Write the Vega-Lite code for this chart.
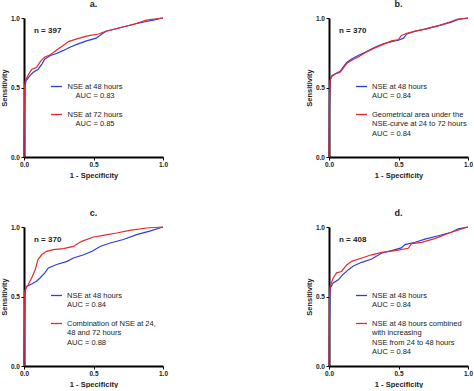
{
  "$schema": "https://vega.github.io/schema/vega-lite/v6.json",
  "padding": {"left": 0, "top": 0, "right": 0, "bottom": 0},
  "bounds": "flush",
  "columns": 2,
  "spacing": {"row": 70, "column": 166},
  "config": {
    "font": "Liberation Sans",
    "view": {"stroke": null},
    "axis": {"domainColor": "black", "domainWidth": 2, "tickColor": "black", "tickSize": 3, "tickWidth": 1, "labelFont": "Liberation Sans", "labelFontWeight": "bold", "labelFontSize": 6.5, "labelColor": "#222", "labelPadding": 1.5, "titleFont": "Liberation Sans", "titleFontWeight": "bold", "titleFontSize": 7.5, "titleColor": "#222", "grid": false},
    "axisX": {"titlePadding": 3, "labelFlush": false},
    "axisY": {"titlePadding": 1.5},
    "title": {"fontSize": 9, "fontWeight": "bold", "color": "#222", "offset": 6, "anchor": "middle", "frame": "group"},
    "legend": {"orient": "none", "title": null, "symbolType": "stroke", "symbolStrokeWidth": 1.3, "symbolSize": 121, "labelFont": "Liberation Sans", "labelFontSize": 7.5, "labelColor": "#222", "labelLimit": 0, "rowPadding": 8, "padding": 0, "labelOffset": 4, "legendX": 26, "legendY": 62}
  },
  "datasets": {
    "roc": [
      {"p":"a","s":"blue","x":0,"y":0},{"p":"a","s":"blue","x":0.003,"y":0.3},{"p":"a","s":"blue","x":0.007,"y":0.5},{"p":"a","s":"blue","x":0.015,"y":0.55},{"p":"a","s":"blue","x":0.043,"y":0.585},{"p":"a","s":"blue","x":0.067,"y":0.61},{"p":"a","s":"blue","x":0.1,"y":0.63},{"p":"a","s":"blue","x":0.13,"y":0.67},{"p":"a","s":"blue","x":0.15,"y":0.705},{"p":"a","s":"blue","x":0.19,"y":0.73},{"p":"a","s":"blue","x":0.235,"y":0.745},{"p":"a","s":"blue","x":0.28,"y":0.765},{"p":"a","s":"blue","x":0.33,"y":0.79},{"p":"a","s":"blue","x":0.38,"y":0.81},{"p":"a","s":"blue","x":0.45,"y":0.835},{"p":"a","s":"blue","x":0.52,"y":0.855},{"p":"a","s":"blue","x":0.56,"y":0.885},{"p":"a","s":"blue","x":0.59,"y":0.905},{"p":"a","s":"blue","x":0.69,"y":0.93},{"p":"a","s":"blue","x":0.79,"y":0.955},{"p":"a","s":"blue","x":0.88,"y":0.975},{"p":"a","s":"blue","x":0.93,"y":0.985},{"p":"a","s":"blue","x":0.98,"y":0.997},{"p":"a","s":"blue","x":1,"y":1},
      {"p":"a","s":"red","x":0,"y":0},{"p":"a","s":"red","x":0.003,"y":0.5},{"p":"a","s":"red","x":0.01,"y":0.55},{"p":"a","s":"red","x":0.03,"y":0.59},{"p":"a","s":"red","x":0.055,"y":0.63},{"p":"a","s":"red","x":0.09,"y":0.645},{"p":"a","s":"red","x":0.12,"y":0.69},{"p":"a","s":"red","x":0.15,"y":0.72},{"p":"a","s":"red","x":0.19,"y":0.735},{"p":"a","s":"red","x":0.235,"y":0.77},{"p":"a","s":"red","x":0.28,"y":0.8},{"p":"a","s":"red","x":0.32,"y":0.83},{"p":"a","s":"red","x":0.38,"y":0.85},{"p":"a","s":"red","x":0.45,"y":0.87},{"p":"a","s":"red","x":0.535,"y":0.885},{"p":"a","s":"red","x":0.59,"y":0.905},{"p":"a","s":"red","x":0.69,"y":0.93},{"p":"a","s":"red","x":0.79,"y":0.955},{"p":"a","s":"red","x":0.88,"y":0.985},{"p":"a","s":"red","x":1,"y":1},
      {"p":"b","s":"blue","x":0,"y":0},{"p":"b","s":"blue","x":0.003,"y":0.35},{"p":"b","s":"blue","x":0.008,"y":0.55},{"p":"b","s":"blue","x":0.02,"y":0.585},{"p":"b","s":"blue","x":0.043,"y":0.597},{"p":"b","s":"blue","x":0.08,"y":0.616},{"p":"b","s":"blue","x":0.1,"y":0.645},{"p":"b","s":"blue","x":0.127,"y":0.68},{"p":"b","s":"blue","x":0.163,"y":0.705},{"p":"b","s":"blue","x":0.21,"y":0.73},{"p":"b","s":"blue","x":0.26,"y":0.753},{"p":"b","s":"blue","x":0.33,"y":0.79},{"p":"b","s":"blue","x":0.39,"y":0.815},{"p":"b","s":"blue","x":0.45,"y":0.83},{"p":"b","s":"blue","x":0.5,"y":0.84},{"p":"b","s":"blue","x":0.535,"y":0.855},{"p":"b","s":"blue","x":0.56,"y":0.885},{"p":"b","s":"blue","x":0.62,"y":0.905},{"p":"b","s":"blue","x":0.69,"y":0.92},{"p":"b","s":"blue","x":0.79,"y":0.945},{"p":"b","s":"blue","x":0.88,"y":0.97},{"p":"b","s":"blue","x":0.93,"y":0.99},{"p":"b","s":"blue","x":1,"y":1},
      {"p":"b","s":"red","x":0,"y":0},{"p":"b","s":"red","x":0.003,"y":0.4},{"p":"b","s":"red","x":0.008,"y":0.55},{"p":"b","s":"red","x":0.02,"y":0.58},{"p":"b","s":"red","x":0.05,"y":0.6},{"p":"b","s":"red","x":0.08,"y":0.61},{"p":"b","s":"red","x":0.1,"y":0.635},{"p":"b","s":"red","x":0.13,"y":0.675},{"p":"b","s":"red","x":0.17,"y":0.7},{"p":"b","s":"red","x":0.21,"y":0.72},{"p":"b","s":"red","x":0.26,"y":0.75},{"p":"b","s":"red","x":0.33,"y":0.785},{"p":"b","s":"red","x":0.39,"y":0.81},{"p":"b","s":"red","x":0.45,"y":0.835},{"p":"b","s":"red","x":0.5,"y":0.845},{"p":"b","s":"red","x":0.52,"y":0.875},{"p":"b","s":"red","x":0.56,"y":0.89},{"p":"b","s":"red","x":0.62,"y":0.905},{"p":"b","s":"red","x":0.69,"y":0.92},{"p":"b","s":"red","x":0.79,"y":0.945},{"p":"b","s":"red","x":0.88,"y":0.975},{"p":"b","s":"red","x":0.92,"y":0.99},{"p":"b","s":"red","x":1,"y":1},
      {"p":"c","s":"blue","x":0,"y":0},{"p":"c","s":"blue","x":0.003,"y":0.3},{"p":"c","s":"blue","x":0.008,"y":0.55},{"p":"c","s":"blue","x":0.02,"y":0.573},{"p":"c","s":"blue","x":0.055,"y":0.59},{"p":"c","s":"blue","x":0.09,"y":0.61},{"p":"c","s":"blue","x":0.115,"y":0.633},{"p":"c","s":"blue","x":0.15,"y":0.67},{"p":"c","s":"blue","x":0.175,"y":0.705},{"p":"c","s":"blue","x":0.235,"y":0.73},{"p":"c","s":"blue","x":0.31,"y":0.753},{"p":"c","s":"blue","x":0.355,"y":0.777},{"p":"c","s":"blue","x":0.43,"y":0.8},{"p":"c","s":"blue","x":0.49,"y":0.825},{"p":"c","s":"blue","x":0.547,"y":0.86},{"p":"c","s":"blue","x":0.62,"y":0.885},{"p":"c","s":"blue","x":0.715,"y":0.91},{"p":"c","s":"blue","x":0.81,"y":0.945},{"p":"c","s":"blue","x":0.905,"y":0.97},{"p":"c","s":"blue","x":1,"y":1},
      {"p":"c","s":"red","x":0,"y":0},{"p":"c","s":"red","x":0.003,"y":0.525},{"p":"c","s":"red","x":0.015,"y":0.56},{"p":"c","s":"red","x":0.03,"y":0.585},{"p":"c","s":"red","x":0.055,"y":0.633},{"p":"c","s":"red","x":0.08,"y":0.69},{"p":"c","s":"red","x":0.1,"y":0.765},{"p":"c","s":"red","x":0.127,"y":0.8},{"p":"c","s":"red","x":0.163,"y":0.825},{"p":"c","s":"red","x":0.21,"y":0.837},{"p":"c","s":"red","x":0.283,"y":0.845},{"p":"c","s":"red","x":0.355,"y":0.86},{"p":"c","s":"red","x":0.415,"y":0.897},{"p":"c","s":"red","x":0.5,"y":0.928},{"p":"c","s":"red","x":0.57,"y":0.94},{"p":"c","s":"red","x":0.667,"y":0.957},{"p":"c","s":"red","x":0.76,"y":0.976},{"p":"c","s":"red","x":0.88,"y":0.993},{"p":"c","s":"red","x":1,"y":1},
      {"p":"d","s":"blue","x":0,"y":0},{"p":"d","s":"blue","x":0.003,"y":0.3},{"p":"d","s":"blue","x":0.008,"y":0.56},{"p":"d","s":"blue","x":0.03,"y":0.597},{"p":"d","s":"blue","x":0.067,"y":0.62},{"p":"d","s":"blue","x":0.1,"y":0.657},{"p":"d","s":"blue","x":0.14,"y":0.693},{"p":"d","s":"blue","x":0.175,"y":0.72},{"p":"d","s":"blue","x":0.235,"y":0.746},{"p":"d","s":"blue","x":0.307,"y":0.77},{"p":"d","s":"blue","x":0.38,"y":0.813},{"p":"d","s":"blue","x":0.45,"y":0.83},{"p":"d","s":"blue","x":0.52,"y":0.85},{"p":"d","s":"blue","x":0.547,"y":0.873},{"p":"d","s":"blue","x":0.62,"y":0.89},{"p":"d","s":"blue","x":0.69,"y":0.913},{"p":"d","s":"blue","x":0.787,"y":0.937},{"p":"d","s":"blue","x":0.88,"y":0.962},{"p":"d","s":"blue","x":0.93,"y":0.986},{"p":"d","s":"blue","x":1,"y":1},
      {"p":"d","s":"red","x":0,"y":0},{"p":"d","s":"red","x":0.003,"y":0.477},{"p":"d","s":"red","x":0.008,"y":0.573},{"p":"d","s":"red","x":0.03,"y":0.633},{"p":"d","s":"red","x":0.055,"y":0.67},{"p":"d","s":"red","x":0.09,"y":0.68},{"p":"d","s":"red","x":0.127,"y":0.727},{"p":"d","s":"red","x":0.163,"y":0.753},{"p":"d","s":"red","x":0.235,"y":0.777},{"p":"d","s":"red","x":0.307,"y":0.8},{"p":"d","s":"red","x":0.38,"y":0.817},{"p":"d","s":"red","x":0.475,"y":0.83},{"p":"d","s":"red","x":0.57,"y":0.847},{"p":"d","s":"red","x":0.595,"y":0.88},{"p":"d","s":"red","x":0.667,"y":0.89},{"p":"d","s":"red","x":0.76,"y":0.916},{"p":"d","s":"red","x":0.88,"y":0.962},{"p":"d","s":"red","x":1,"y":1}
    ]
  },
  "resolve": {"scale": {"color": "independent"}, "legend": {"color": "independent"}},
  "concat": [
    {
      "title": "a.", "width": 139, "height": 139,
      "layer": [
        {"data": {"name": "roc"}, "transform": [{"filter": "datum.p == 'a'"}], "mark": {"type": "line", "strokeWidth": 1.2},
         "encoding": {
           "x": {"field": "x", "type": "quantitative", "scale": {"domain": [0, 1], "nice": false}, "axis": {"values": [0, 0.5, 1], "format": ".1f", "title": "1 - Specificity"}},
           "y": {"field": "y", "type": "quantitative", "scale": {"domain": [0, 1], "nice": false}, "axis": {"values": [0, 0.5, 1], "format": ".1f", "title": "Sensitivity"}},
           "color": {"field": "s", "type": "nominal", "scale": {"domain": ["blue", "red"], "range": ["#2f3dd6", "#e3282e"]},
             "legend": {"labelAlign": "center", "labelOffset": 32, "labelExpr": "datum.label == 'blue' ? ['NSE at 48 hours', 'AUC = 0.83'] : ['NSE at 72 hours', 'AUC = 0.85']"}}
         }},
        {"data": {"values": [{"t": "n = 397"}]}, "mark": {"type": "text", "align": "left", "baseline": "middle", "fontWeight": "bold", "fontSize": 8, "color": "#222"},
         "encoding": {"text": {"field": "t"}, "x": {"datum": 0.072}, "y": {"datum": 0.906}}}
      ]
    },
    {
      "title": "b.", "width": 139, "height": 139,
      "layer": [
        {"data": {"name": "roc"}, "transform": [{"filter": "datum.p == 'b'"}], "mark": {"type": "line", "strokeWidth": 1.2},
         "encoding": {
           "x": {"field": "x", "type": "quantitative", "scale": {"domain": [0, 1], "nice": false}, "axis": {"values": [0, 0.5, 1], "format": ".1f", "title": "1 - Specificity"}},
           "y": {"field": "y", "type": "quantitative", "scale": {"domain": [0, 1], "nice": false}, "axis": {"values": [0, 0.5, 1], "format": ".1f", "title": "Sensitivity"}},
           "color": {"field": "s", "type": "nominal", "scale": {"domain": ["blue", "red"], "range": ["#2f3dd6", "#e3282e"]},
             "legend": {"labelExpr": "datum.label == 'blue' ? ['NSE at 48 hours', 'AUC = 0.84'] : ['Geometrical area under the', 'NSE-curve at 24 to 72 hours', 'AUC = 0.84']"}}
         }},
        {"data": {"values": [{"t": "n = 370"}]}, "mark": {"type": "text", "align": "left", "baseline": "middle", "fontWeight": "bold", "fontSize": 8, "color": "#222"},
         "encoding": {"text": {"field": "t"}, "x": {"datum": 0.072}, "y": {"datum": 0.906}}}
      ]
    },
    {
      "title": "c.", "width": 139, "height": 139,
      "layer": [
        {"data": {"name": "roc"}, "transform": [{"filter": "datum.p == 'c'"}], "mark": {"type": "line", "strokeWidth": 1.2},
         "encoding": {
           "x": {"field": "x", "type": "quantitative", "scale": {"domain": [0, 1], "nice": false}, "axis": {"values": [0, 0.5, 1], "format": ".1f", "title": "1 - Specificity"}},
           "y": {"field": "y", "type": "quantitative", "scale": {"domain": [0, 1], "nice": false}, "axis": {"values": [0, 0.5, 1], "format": ".1f", "title": "Sensitivity"}},
           "color": {"field": "s", "type": "nominal", "scale": {"domain": ["blue", "red"], "range": ["#2f3dd6", "#e3282e"]},
             "legend": {"labelExpr": "datum.label == 'blue' ? ['NSE at 48 hours', 'AUC = 0.84'] : ['Combination of NSE at 24,', '48 and 72 hours', 'AUC = 0.88']"}}
         }},
        {"data": {"values": [{"t": "n = 370"}]}, "mark": {"type": "text", "align": "left", "baseline": "middle", "fontWeight": "bold", "fontSize": 8, "color": "#222"},
         "encoding": {"text": {"field": "t"}, "x": {"datum": 0.072}, "y": {"datum": 0.906}}}
      ]
    },
    {
      "title": "d.", "width": 139, "height": 139,
      "layer": [
        {"data": {"name": "roc"}, "transform": [{"filter": "datum.p == 'd'"}], "mark": {"type": "line", "strokeWidth": 1.2},
         "encoding": {
           "x": {"field": "x", "type": "quantitative", "scale": {"domain": [0, 1], "nice": false}, "axis": {"values": [0, 0.5, 1], "format": ".1f", "title": "1 - Specificity"}},
           "y": {"field": "y", "type": "quantitative", "scale": {"domain": [0, 1], "nice": false}, "axis": {"values": [0, 0.5, 1], "format": ".1f", "title": "Sensitivity"}},
           "color": {"field": "s", "type": "nominal", "scale": {"domain": ["blue", "red"], "range": ["#2f3dd6", "#e3282e"]},
             "legend": {"labelExpr": "datum.label == 'blue' ? ['NSE at 48 hours', 'AUC = 0.84'] : ['NSE at 48 hours combined', 'with increasing', 'NSE from 24 to 48 hours', 'AUC = 0.84']"}}
         }},
        {"data": {"values": [{"t": "n = 408"}]}, "mark": {"type": "text", "align": "left", "baseline": "middle", "fontWeight": "bold", "fontSize": 8, "color": "#222"},
         "encoding": {"text": {"field": "t"}, "x": {"datum": 0.072}, "y": {"datum": 0.906}}}
      ]
    }
  ]
}
